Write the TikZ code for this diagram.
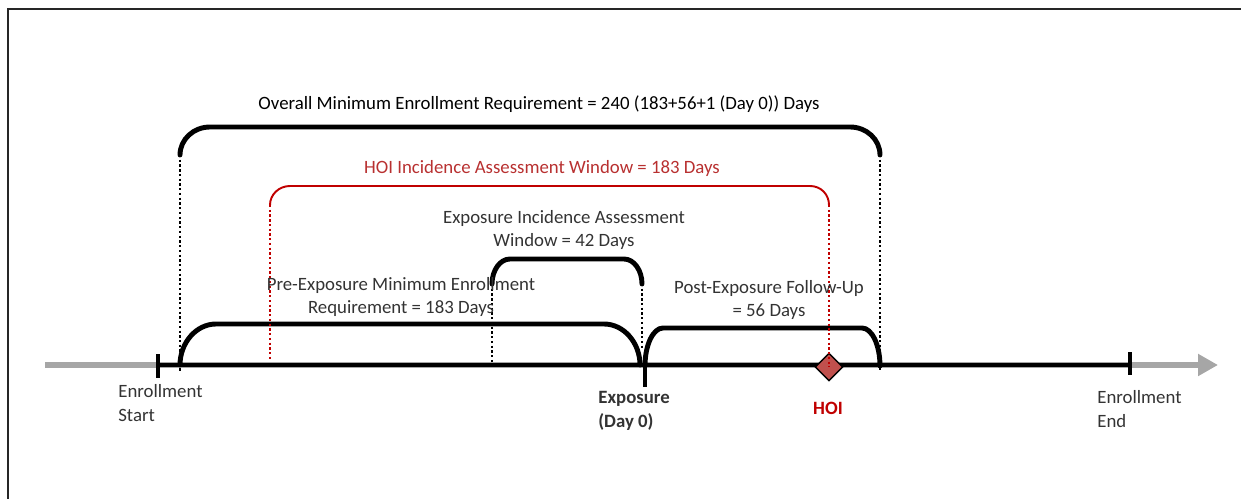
\documentclass[tikz,border=0pt]{standalone}
\usepackage{fontspec}
\setmainfont{Carlito}
\usetikzlibrary{arrows.meta,shapes.geometric}
\definecolor{hoired}{RGB}{192,0,0}
\definecolor{hoitext}{RGB}{184,48,48}
\definecolor{hoifill}{RGB}{192,80,77}
\definecolor{axisgray}{RGB}{166,166,166}

\begin{document}
\begin{tikzpicture}[x=0.02cm,y=-0.02cm,
        lbl/.style={font=\fontsize{10.7}{13.4}\selectfont,align=center,text=black!80,inner sep=0},
        brace/.style={line width=2.8pt,line cap=round},
        guide/.style={dash pattern=on 1.3pt off 1.4pt,line width=1.5pt}]
        \useasboundingbox (0,0) rectangle (1241,499);
        \draw[line width=0.7pt,black!85] (8,499) -- (8,9) -- (1241,9);
        % time axis
        \coordinate (tail) at (45,365);
        \coordinate (head) at (1218,365);
        \coordinate (start) at (158,365);
        \coordinate (expo) at (645,365);
        \coordinate (finish) at (1130,365);
        \draw[axisgray,line width=3pt,-{Triangle[length=0.4cm,width=0.42cm]}] (tail) -- (head);
        \draw[line width=2.8pt] (start) -- (finish);
        \draw[line width=2pt] ([yshift=-0.26cm]start) -- ([yshift=0.22cm]start);
        \draw[line width=2pt] ([yshift=-0.2cm]finish) -- ([yshift=0.26cm]finish);
        \draw[line width=2pt] (expo) -- ([yshift=-0.44cm]expo);
        \node [diamond,draw,thick,fill=hoifill,minimum size=0.56cm,inner sep=0] (hoi) at (829,367) {};
        % braces
        \draw[brace] (180,155) .. controls (180,139.5) and (193.4,127) .. (210,127) -- (850,127)
                .. controls (866.6,127) and (880,139.5) .. (880,155);
        \draw[hoired,line width=1.1pt] (270,205) .. controls (270,194.5) and (279,186) .. (290,186) -- (810,186)
                .. controls (821,186) and (829,194.5) .. (829,205);
        \draw[brace] (492,284) .. controls (492,270.2) and (500.1,259) .. (510,259) -- (624,259)
                .. controls (633.9,259) and (642,270.2) .. (642,284);
        \draw[brace] (180,365) .. controls (180,342.9) and (196.1,324) .. (216,324) -- (604,324)
                .. controls (623.9,324) and (640,342.9) .. (640,365);
        \draw[brace] (645,366) .. controls (645,345) and (653.1,328) .. (663,328) -- (862,328)
                .. controls (871.9,328) and (880,345) .. (880,366);
        % guides
        \coordinate (allL) at (180,155);
        \coordinate (allR) at (880,155);
        \coordinate (winL) at (270,205);
        \coordinate (winR) at (829,205);
        \coordinate (expL) at (492,284);
        \coordinate (expR) at (642,284);
        \draw[guide] (allL) -- (180,372);
        \draw[guide] (allR) -- (880,370);
        \draw[guide,hoired] (winL) -- (270,360);
        \draw[guide,hoired] (winR) -- (hoi.center);
        \draw[guide] (expL) -- (492,365);
        \draw[guide] (expR) -- (642,348);
        % labels
        \node [lbl,text=black] (overall) at (539,104) {Overall Minimum Enrollment Requirement = 240 (183+56+1 (Day 0)) Days};
        \node [lbl,text=hoitext] (hoiwin) at (542,168) {HOI Incidence Assessment Window = 183 Days};
        \node [lbl] (expwin) at (564,230) {Exposure Incidence Assessment\\Window = 42 Days};
        \node [lbl] (pre) at (401,297) {Pre-Exposure Minimum Enrollment\\Requirement = 183 Days};
        \node [lbl] (post) at (769,300) {Post-Exposure Follow-Up\\= 56 Days};
        \node [lbl,align=left,anchor=west] (startlbl) at (118,403) {Enrollment\\Start};
        \node [lbl,align=left,anchor=west,font=\fontsize{10.7}{13.4}\selectfont\bfseries] (expolbl) at (598,411) {Exposure\\(Day 0)};
        \node [lbl,text=hoired,font=\fontsize{10.7}{13.4}\selectfont\bfseries] (hoilbl) at (828,408) {HOI};
        \node [lbl,align=left,anchor=west] (endlbl) at (1097,409) {Enrollment\\End};
\end{tikzpicture}
\end{document}
